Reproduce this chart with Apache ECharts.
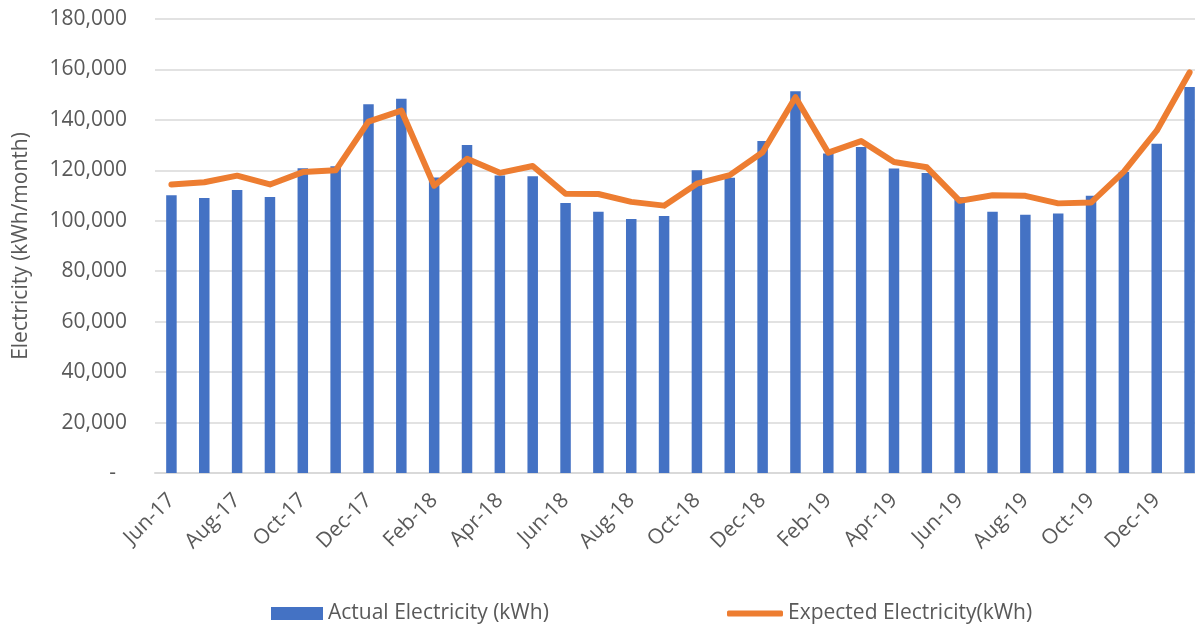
<!DOCTYPE html>
<html>
<head>
<meta charset="utf-8">
<script src="https://cdn.jsdelivr.net/npm/echarts@6/dist/echarts.min.js"></script>
<style>
html,body{margin:0;padding:0;background:#fff;}
#main{width:1195px;height:625px;}
</style>
</head>
<body>
<div id="main"></div>
<script>
// months on the x axis
var months=['Jun-17','Jul-17','Aug-17','Sep-17','Oct-17','Nov-17','Dec-17',
    'Jan-18','Feb-18','Mar-18','Apr-18','May-18','Jun-18','Jul-18','Aug-18','Sep-18','Oct-18','Nov-18','Dec-18',
    'Jan-19','Feb-19','Mar-19','Apr-19','May-19','Jun-19','Jul-19','Aug-19','Sep-19','Oct-19','Nov-19','Dec-19',
    'Jan-20'];

// actual (bars)
var actual=[110100,109000,112200,109400,120800,121600,146200,
    148400,117200,130000,118000,117700,107000,103600,100700,101900,120000,117100,131600,
    151400,126700,129300,120700,118900,109300,103600,102400,102900,109900,119300,130500,
    153000];

// expected (line)
var expected=[114400,115300,117900,114400,119300,120000,139300,
    143700,113900,124600,119000,121700,110700,110600,107500,106000,114700,118100,127200,
    149000,127000,131600,123300,121200,107900,110100,109900,106900,107200,119500,135700,
    158800];

var names=['Actual Electricity (kWh)','Expected Electricity(kWh)'];

var font='"Open Sans", sans-serif';
var textColor='#595959';

var myChart=echarts.init(document.getElementById('main'));
myChart.setOption({
    animation:false,
    textStyle:{fontFamily:font},
    // plot runs a little past the right edge (the original is cropped there)
    grid:{
        left:155,
        right:-11,
        top:19,
        bottom:152,
        outerBoundsMode:'none'
    },
    legend:[
        {
            data:[names[0]],
            left:266,
            top:598,
            itemWidth:52,
            itemHeight:13,
            icon:'rect',
            textStyle:{color:textColor,fontSize:21,fontFamily:font}
        },
        {
            data:[names[1]],
            left:722,
            top:598,
            itemWidth:56,
            itemHeight:6,
            icon:'roundRect',
            textStyle:{color:textColor,fontSize:21,fontFamily:font}
        }
    ],
    xAxis:{
        type:'category',
        data:months,
        axisLine:{lineStyle:{color:'#d9d9d9',width:2}},
        axisTick:{show:false},
        axisLabel:{
            interval:1,
            rotate:45,
            margin:24,
            color:textColor,
            fontSize:21,
            fontFamily:font
        }
    },
    yAxis:{
        type:'value',
        min:0,
        max:180000,
        interval:20000,
        name:'Electricity (kWh/month)',
        nameLocation:'middle',
        nameGap:123,
        nameTextStyle:{color:textColor,fontSize:21,fontFamily:font},
        axisLine:{show:false},
        axisTick:{show:false},
        splitLine:{lineStyle:{color:'#d9d9d9',width:1.5}},
        axisLabel:{
            margin:28,
            color:textColor,
            fontSize:21,
            fontFamily:font,
            formatter:function(v){
                if(v===0) return '-  ';
                return v.toLocaleString('en-US');
            }
        }
    },
    series:[
        {
            name:names[0],
            type:'bar',
            data:actual,
            barWidth:10.5,
            itemStyle:{color:'#4472C4'}
        },
        {
            name:names[1],
            type:'line',
            data:expected,
            symbol:'none',
            lineStyle:{color:'#ED7D31',width:6,cap:'round',join:'round'},
            itemStyle:{color:'#ED7D31'}
        }
    ]
});
</script>
</body>
</html>
